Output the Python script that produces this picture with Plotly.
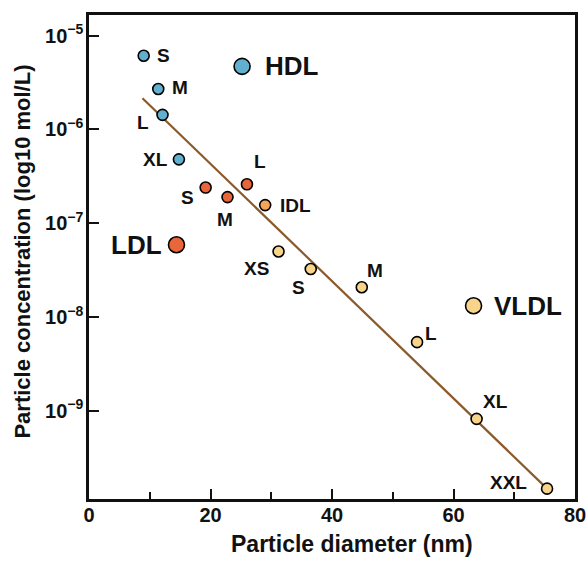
import math
import plotly.graph_objects as go

# HDL subclasses
hdl_labels = ["S", "M", "L", "XL"]
hdl_x = [9.0, 11.4, 12.1, 14.8]
hdl_y = [6.1e-6, 2.7e-6, 1.43e-6, 4.8e-7]

# LDL subclasses
ldl_labels = ["S", "M", "L"]
ldl_x = [19.2, 22.8, 26.0]
ldl_y = [2.4e-7, 1.9e-7, 2.6e-7]

# IDL
idl_labels = ["IDL"]
idl_x = [29.0]
idl_y = [1.56e-7]

# VLDL subclasses
vldl_labels = ["XS", "S", "M", "L", "XL", "XXL"]
vldl_x = [31.2, 36.5, 44.9, 54.0, 63.8, 75.4]
vldl_y = [5.0e-8, 3.25e-8, 2.08e-8, 5.4e-9, 8.2e-10, 1.48e-10]

# class totals
class_labels = ["HDL", "LDL", "VLDL"]
class_x = [25.2, 14.4, 63.3]
class_y = [4.7e-6, 5.9e-8, 1.32e-8]

# regression line
line_x = [8.8, 75.4]
line_y = [2.15e-6, 1.48e-10]

# axis ticks
x_ticks = [0, 20, 40, 60, 80]
x_minor = [10, 30, 50, 70]
y_ticks = [1e-5, 1e-6, 1e-7, 1e-8, 1e-9]
y_ticktext = ["10<sup>\u22125</sup>", "10<sup>\u22126</sup>", "10<sup>\u22127</sup>",
              "10<sup>\u22128</sup>", "10<sup>\u22129</sup>"]

c_hdl = "#62B0CF"
c_ldl = "#E8663A"
c_idl = "#F5A55A"
c_vldl = "#F8D48A"
c_line = "#8B5A2B"
INK = "#111111"

FONT = "Liberation Sans, Arial, sans-serif"

fig = go.Figure()

fig.add_trace(go.Scatter(x=line_x, y=line_y, mode="lines",
                         line=dict(color=c_line, width=2.2), hoverinfo="skip"))

def pts(x, y, color, size):
    fig.add_trace(go.Scatter(x=x, y=y, mode="markers",
                             marker=dict(color=color, size=size,
                                         line=dict(color="black", width=1.6))))

pts(hdl_x, hdl_y, c_hdl, 11)
pts(ldl_x, ldl_y, c_ldl, 11)
pts(idl_x, idl_y, c_idl, 11)
pts(vldl_x, vldl_y, c_vldl, 11)
pts(class_x, class_y, [c_hdl, c_ldl, c_vldl], 16)

# label offsets (pixels, dx right, dy down) - styling only
hdl_off = [(20, 0), (22, -1), (-20, 8), (-23, 0)]
ldl_off = [(-18, 10), (-3, 22), (13, -23)]
idl_off = [(30, 0)]
vldl_off = [(-22, 17), (-12, 18), (13, -17), (14, -9), (19, -17), (-39, -6)]
class_off = [(50, 0), (-40, 0), (54, 0)]

def labels(names, xs, ys, offs, size):
    for n, x, y, (dx, dy) in zip(names, xs, ys, offs):
        fig.add_annotation(x=x, y=math.log10(y), xref="x", yref="y", text=n,
                           showarrow=False, xshift=dx, yshift=-dy,
                           font=dict(family=FONT, size=size, color=INK,
                                     weight="bold"))

labels(hdl_labels, hdl_x, hdl_y, hdl_off, 19)
labels(ldl_labels, ldl_x, ldl_y, ldl_off, 19)
labels(idl_labels, idl_x, idl_y, idl_off, 19)
labels(vldl_labels, vldl_x, vldl_y, vldl_off, 19)
labels(class_labels, class_x, class_y, class_off, 26)

# axis titles
fig.add_annotation(x=0.541, y=-0.093, xref="paper", yref="paper",
                   xanchor="center", yanchor="middle",
                   text="Particle diameter (nm)", showarrow=False,
                   font=dict(family=FONT, size=23, color=INK, weight="bold"))
fig.add_annotation(x=-0.136, y=0.511, xref="paper", yref="paper", textangle=-90,
                   xanchor="center", yanchor="middle",
                   text="Particle concentration (log10 mol/L)", showarrow=False,
                   font=dict(family=FONT, size=22, color=INK, weight="bold"))

fig.update_layout(
    width=587, height=561,
    margin=dict(l=89, r=12, t=15, b=62),
    paper_bgcolor="white", plot_bgcolor="white",
    showlegend=False,
    font=dict(family=FONT, color=INK),
)

fig.update_xaxes(
    range=[0, 80], tickvals=x_ticks, showgrid=False, zeroline=False,
    automargin=False,
    showline=True, linecolor=INK, linewidth=2.5, mirror=True,
    ticks="inside", tickwidth=1.5, ticklen=10, tickcolor=INK,
    ticklabelstandoff=-4,
    tickfont=dict(family=FONT, size=20, weight="bold"),
    minor=dict(tickvals=x_minor, ticks="inside", ticklen=7,
               tickwidth=1.5, tickcolor=INK, showgrid=False),
)

fig.update_yaxes(
    type="log", range=[-9.94, -4.78], tickvals=y_ticks, ticktext=y_ticktext,
    showgrid=False, zeroline=False, automargin=False,
    showline=True, linecolor=INK, linewidth=2.5, mirror=True,
    ticks="inside", tickwidth=1.5, ticklen=10, tickcolor=INK,
    ticklabelstandoff=-1,
    tickfont=dict(family=FONT, size=20, weight="bold"),
)

fig.write_html("out.html", config={"displayModeBar": False},
               post_script="document.body.style.margin='0px';document.body.style.overflow='hidden';")
